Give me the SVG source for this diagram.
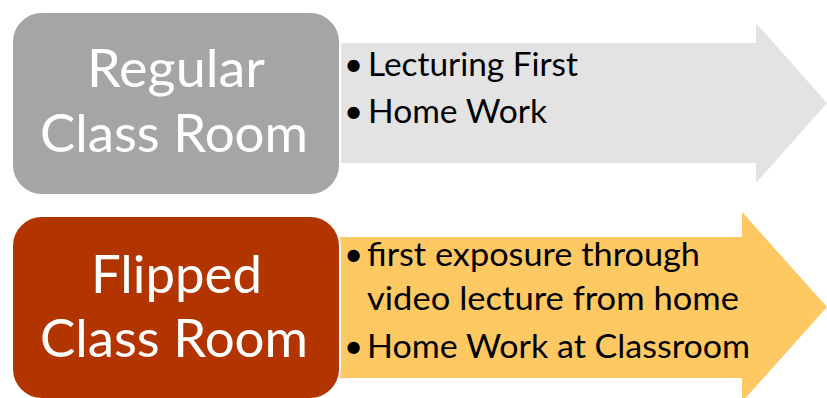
<svg xmlns="http://www.w3.org/2000/svg" width="827" height="398" viewBox="0 0 827 398">
<style>
.box{stroke:#ffffff;stroke-width:2}
.title{font-family:Lato,"Open Sans","Liberation Sans",sans-serif;font-size:53px;fill:#ffffff;text-anchor:middle}
.item{font-family:Lato,"Open Sans","Liberation Sans",sans-serif;font-size:33px;fill:#000000}
</style>
<rect width="827" height="398" fill="#ffffff"/>
<g id="connectors">
<polygon id="arrow-regular" points="338,43 756,43 756,23 827,103 756,183 756,163 338,163" fill="#e3e3e3"/>
<polygon id="arrow-flipped" points="338,237 742,237 742,212 827,307 742,402 742,378 338,378" fill="#fec862"/>
</g>
<g id="node-regular">
<rect class="box" x="12" y="12" width="328" height="183" rx="30" fill="#a5a5a5"/>
<text class="title" x="176" y="87" textLength="178" lengthAdjust="spacingAndGlyphs">Regular</text>
<text class="title" x="174" y="152" textLength="268" lengthAdjust="spacingAndGlyphs">Class Room</text>
</g>
<g id="node-flipped">
<rect class="box" x="12" y="216" width="328" height="183" rx="30" fill="#b23500"/>
<text class="title" x="176.5" y="293" textLength="171" lengthAdjust="spacingAndGlyphs">Flipped</text>
<text class="title" x="174" y="357" textLength="268" lengthAdjust="spacingAndGlyphs">Class Room</text>
</g>
<g id="list-regular">
<text class="item" x="344" y="76">•</text>
<text class="item" x="368" y="76" textLength="210" lengthAdjust="spacingAndGlyphs">Lecturing First</text>
<text class="item" x="344" y="123">•</text>
<text class="item" x="368" y="123" textLength="179" lengthAdjust="spacingAndGlyphs">Home Work</text>
</g>
<g id="list-flipped">
<text class="item" x="344" y="266">•</text>
<text class="item" x="367" y="266" textLength="333" lengthAdjust="spacingAndGlyphs">first exposure through</text>
<text class="item" x="367" y="310" textLength="372" lengthAdjust="spacingAndGlyphs">video lecture from home</text>
<text class="item" x="344" y="358">•</text>
<text class="item" x="367" y="358" textLength="383" lengthAdjust="spacingAndGlyphs">Home Work at Classroom</text>
</g>
</svg>
